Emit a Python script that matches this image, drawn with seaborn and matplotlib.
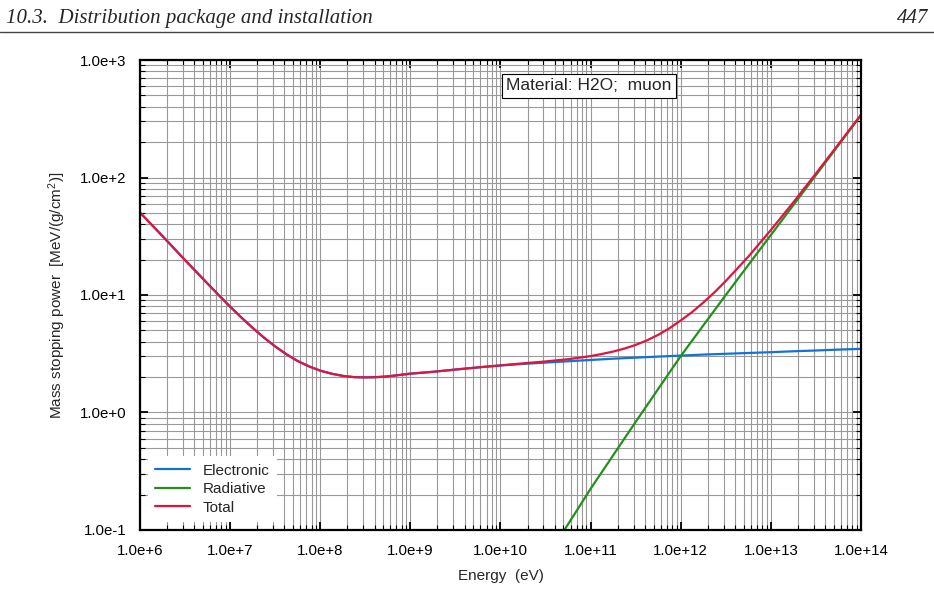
import numpy as np
import pandas as pd
import matplotlib
matplotlib.use('Agg')
import matplotlib.pyplot as plt
import seaborn as sns
from matplotlib.ticker import LogLocator, FuncFormatter, NullFormatter

# 數據
energy_ev = [1e6, 1.778e6, 3.162e6, 5.623e6, 7.499e6, 1e7, 1.334e7, 1.778e7, 2.371e7,
             3.162e7, 4.217e7, 5.623e7, 7.499e7, 1e8, 1.334e8, 1.778e8, 2.371e8,
             3.162e8, 4.217e8, 5.623e8, 1e9, 1.778e9, 3.162e9, 5.623e9,
             1e10, 1.778e10, 3.162e10, 5.623e10, 1e11, 1.334e11, 1.778e11, 2.371e11,
             3.162e11, 4.217e11, 5.623e11, 7.499e11, 1e12, 1.334e12, 1.778e12, 2.371e12,
             3.162e12, 5.623e12, 1e13, 1.778e13, 3.162e13, 5.623e13, 1e14]
electronic = [50.3, 31.7, 19.8, 12.5, 9.95, 7.96, 6.43, 5.25, 4.34,
              3.65, 3.13, 2.74, 2.47, 2.27, 2.14, 2.05, 2.00,
              1.99, 2.00, 2.03, 2.14, 2.22, 2.32, 2.42,
              2.51, 2.59, 2.66, 2.73, 2.80, 2.835, 2.87, 2.90,
              2.93, 2.96, 2.99, 3.02, 3.05, 3.08, 3.11, 3.135,
              3.16, 3.21, 3.26, 3.32, 3.37, 3.43, 3.48]
radiative_energy = [3.162e10, 5.623e10, 1e11, 1.778e11, 3.162e11, 5.623e11,
                    1e12, 1.778e12, 3.162e12, 5.623e12, 1e13, 1.778e13, 3.162e13, 5.623e13, 1e14]
radiative = [0.0562, 0.112, 0.224, 0.432, 0.832, 1.585,
             3.02, 5.50, 10.0, 18.0, 32.4, 58.2, 104.7, 188.4, 338.8]
total = [50.3, 31.7, 19.8, 12.5, 9.95, 7.96, 6.43, 5.25, 4.34,
         3.65, 3.13, 2.74, 2.47, 2.27, 2.14, 2.05, 2.00,
         1.99, 2.00, 2.03, 2.14, 2.22, 2.32, 2.42,
         2.52, 2.62, 2.72, 2.84, 3.02, 3.15, 3.30, 3.50,
         3.76, 4.11, 4.58, 5.21, 6.07, 7.15, 8.61, 10.55,
         13.16, 21.2, 35.7, 61.5, 108.1, 191.8, 342.3]

x_ticks = [1e6, 1e7, 1e8, 1e9, 1e10, 1e11, 1e12, 1e13, 1e14]
y_ticks = [1e-1, 1e0, 1e1, 1e2, 1e3]

df = pd.concat([
    pd.DataFrame({'Energy': energy_ev, 'Value': electronic, 'Type': 'Electronic'}),
    pd.DataFrame({'Energy': radiative_energy, 'Value': radiative, 'Type': 'Radiative'}),
    pd.DataFrame({'Energy': energy_ev, 'Value': total, 'Type': 'Total'}),
], ignore_index=True)

sns.set_style('ticks')
plt.rcParams['font.family'] = ['Liberation Sans', 'DejaVu Sans']
plt.rcParams['mathtext.default'] = 'regular'

fig = plt.figure(figsize=(9.34, 5.90), dpi=100)
ax = fig.add_axes([0.1499, 0.1017, 0.7719, 0.7966])
ax.set_xscale('log')
ax.set_yscale('log')

palette = {'Electronic': '#1273d3', 'Radiative': '#23901e', 'Total': '#dc1640'}
sns.lineplot(data=df, x='Energy', y='Value', hue='Type', palette=palette,
             estimator=None, sort=True, linewidth=1.6, ax=ax)

def fmt(v, pos):
    return f"1.0e{int(round(np.log10(v))):+d}"

ax.xaxis.set_minor_locator(LogLocator(base=10, subs=np.arange(2, 10), numticks=200))
ax.yaxis.set_minor_locator(LogLocator(base=10, subs=np.arange(2, 10), numticks=200))
ax.set_xticks(x_ticks)
ax.set_yticks(y_ticks)
ax.xaxis.set_major_formatter(FuncFormatter(fmt))
ax.yaxis.set_major_formatter(FuncFormatter(fmt))
ax.xaxis.set_minor_formatter(NullFormatter())
ax.yaxis.set_minor_formatter(NullFormatter())
ax.set_xlim(1e6, 1e14)
ax.set_ylim(1e-1, 1e3)

ax.grid(which='both', color='#999999', linewidth=0.8)
ax.set_axisbelow(True)
ax.tick_params(which='both', direction='in', top=True, right=True, labelsize=10.8, colors='black')
ax.tick_params(which='major', length=6, width=1.3, pad=10)
ax.tick_params(which='minor', length=3.5, width=0.8)
for s in ax.spines.values():
    s.set_linewidth(1.6)
    s.set_color('black')

ax.set_xlabel('Energy  (eV)', fontsize=11, labelpad=8)
ax.set_ylabel('Mass stopping power  [MeV/(g/cm$^2$)]', fontsize=11, labelpad=8)

leg = ax.legend(loc='lower left', fontsize=11, frameon=True, fancybox=False,
                handlelength=2.3, handletextpad=0.8, labelspacing=0.3,
                borderaxespad=0.5, borderpad=0.5)
leg.get_frame().set_edgecolor('none')
leg.get_frame().set_facecolor('white')
leg.get_frame().set_alpha(1)

ax.text(0.623, 0.945, 'Material: H2O;  muon', transform=ax.transAxes, fontsize=12.5,
        ha='center', va='center',
        bbox=dict(boxstyle='square,pad=0.25', facecolor='white', edgecolor='black', linewidth=0.8))

# 頁首
fig.text(0.006, 0.968, '10.3.  Distribution package and installation', fontsize=15,
         family='Liberation Serif', style='italic', va='center', ha='left')
fig.text(0.994, 0.968, '447', fontsize=15, family='Liberation Serif', style='italic',
         va='center', ha='right')
fig.add_artist(plt.Line2D([0, 1], [0.946, 0.946], color='#444444', linewidth=1.0,
                          transform=fig.transFigure))

fig.savefig('out.png', dpi=100)
